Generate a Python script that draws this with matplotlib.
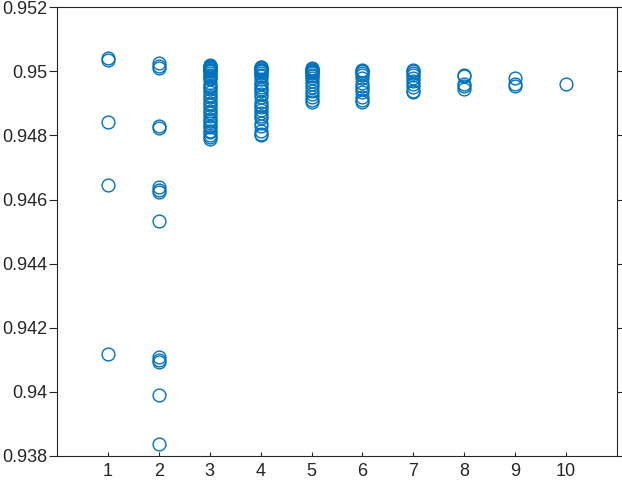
import numpy as np
import matplotlib
matplotlib.use('Agg')
import matplotlib.pyplot as plt

plt.rcParams['font.family'] = ['Liberation Sans', 'DejaVu Sans']

# valores lidos por coluna (x = 1..10)
col1 = [0.95034, 0.95040, 0.94841, 0.94644, 0.94119]
col2 = [0.95025, 0.95018, 0.95009, 0.94828, 0.94822, 0.94638, 0.94630, 0.94625,
        0.94534, 0.94109, 0.94100, 0.94094, 0.93991, 0.93838]
col3 = [0.95020, 0.95018, 0.95015, 0.95012, 0.95010, 0.95007, 0.95005, 0.95002,
        0.95000, 0.94995, 0.94990, 0.94985, 0.94980, 0.94975, 0.94965, 0.94955,
        0.94950, 0.94945, 0.94935, 0.94925, 0.94920, 0.94910, 0.94900, 0.94895,
        0.94885, 0.94875, 0.94870, 0.94860, 0.94850, 0.94845, 0.94840, 0.94830,
        0.94825, 0.94815, 0.94810, 0.94800, 0.94795, 0.94790]
col4 = [0.95015, 0.95012, 0.95010, 0.95007, 0.95005, 0.95002, 0.95000, 0.94995,
        0.94990, 0.94985, 0.94975, 0.94965, 0.94960, 0.94950, 0.94945, 0.94940,
        0.94930, 0.94920, 0.94905, 0.94895, 0.94890, 0.94880, 0.94870, 0.94860,
        0.94855, 0.94840, 0.94830, 0.94815, 0.94805, 0.94800]
col5 = [0.95010, 0.95008, 0.95005, 0.95002, 0.95000, 0.94997, 0.94995, 0.94990,
        0.94985, 0.94980, 0.94970, 0.94960, 0.94950, 0.94940, 0.94930, 0.94920,
        0.94910, 0.94905]
col6 = [0.95005, 0.95002, 0.95000, 0.94995, 0.94990, 0.94980, 0.94965, 0.94955,
        0.94945, 0.94935, 0.94920, 0.94910, 0.94905]
col7 = [0.95005, 0.95000, 0.94995, 0.94990, 0.94980, 0.94970, 0.94960, 0.94950,
        0.94940, 0.94935]
col8 = [0.94990, 0.94985, 0.94960, 0.94955, 0.94945]
col9 = [0.94980, 0.94960, 0.94955]
col10 = [0.94960]

colunas = [col1, col2, col3, col4, col5, col6, col7, col8, col9, col10]

xticks = list(range(1, 11))
yticks = [0.938, 0.94, 0.942, 0.944, 0.946, 0.948, 0.95, 0.952]
ytick_labels = ['0.938', '0.94', '0.942', '0.944', '0.946', '0.948', '0.95', '0.952']

fig = plt.figure(figsize=(6.22, 4.80), dpi=100)
ax = fig.add_axes([0.0916, 0.05, 0.9004, 0.935])

azul = '#0072BD'
for i, col in enumerate(colunas):
    xs = np.full(len(col), xticks[i])
    ax.plot(xs, col, 'o', markerfacecolor='none', markeredgecolor=azul,
            markersize=9.2, markeredgewidth=1.0, linestyle='none')

ax.set_xlim(0, 11)
ax.set_ylim(0.938, 0.952)
ax.set_xticks(xticks)
ax.set_yticks(yticks)
ax.set_yticklabels(ytick_labels)

for s in ax.spines.values():
    s.set_color('#262626')
    s.set_linewidth(0.8)

ax.tick_params(axis='y', direction='out', length=6, width=0.8, color='#262626',
               labelsize=13, labelcolor='#262626', right=True, pad=1)
ax.tick_params(axis='x', direction='in', length=3, width=0.8, color='#262626',
               labelsize=13, labelcolor='#262626', pad=5)

fig.savefig('out.png', dpi=100)
